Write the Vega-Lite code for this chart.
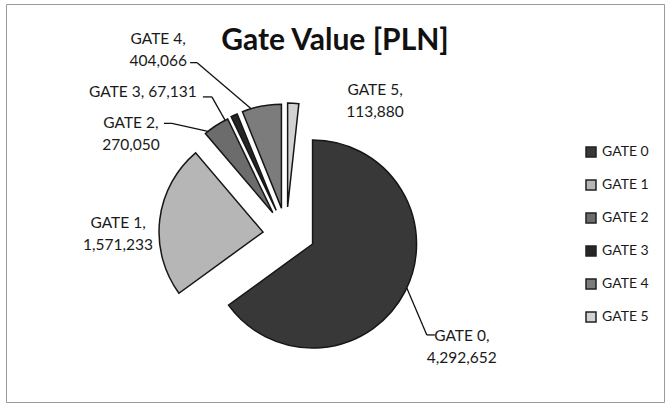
{
  "$schema": "https://vega.github.io/schema/vega-lite/v6.json",
  "width": 658,
  "height": 398,
  "autosize": "none",
  "padding": {"left": 6, "top": 4, "right": 1, "bottom": 2},
  "background": "white",
  "params": [
    {"name": "cx", "value": 283},
    {"name": "cy", "value": 229}
  ],
  "title": {
    "text": "Gate Value [PLN]",
    "font": "Lato",
    "fontSize": 30,
    "fontWeight": "bold",
    "color": "#111111",
    "anchor": "middle",
    "offset": 0,
    "dy": 76,
    "baseline": "alphabetic"
  },
  "data": {
    "values": [
      {"gate": "GATE 0", "value": 4292652},
      {"gate": "GATE 1", "value": 1571233},
      {"gate": "GATE 2", "value": 270050},
      {"gate": "GATE 3", "value": 67131},
      {"gate": "GATE 4", "value": 404066},
      {"gate": "GATE 5", "value": 113880}
    ]
  },
  "transform": [
    {"joinaggregate": [{"op": "sum", "field": "value", "as": "total"}]},
    {"stack": "value", "groupby": [], "sort": [{"field": "gate", "order": "ascending"}], "as": ["v0", "v1"]},
    {"calculate": "datum.gate == 'GATE 3' ? datum.gate + ', ' + format(datum.value, ',') : [datum.gate + ',', format(datum.value, ',')]", "as": "label"}
  ],
  "layer": [
    {
      "mark": {
        "type": "arc",
        "outerRadius": 104,
        "stroke": "#161616",
        "strokeWidth": 1.5,
        "x": {"expr": "cx + 26*sin(PI*(datum.v0+datum.v1)/datum.total)"},
        "y": {"expr": "cy - 26*cos(PI*(datum.v0+datum.v1)/datum.total)"}
      },
      "encoding": {
        "theta": {"field": "v0", "type": "quantitative"},
        "theta2": {"field": "v1"},
        "color": {
          "field": "gate",
          "type": "nominal",
          "scale": {
            "domain": ["GATE 0", "GATE 1", "GATE 2", "GATE 3", "GATE 4", "GATE 5"],
            "range": ["#383838", "#b6b6b6", "#6c6c6c", "#262626", "#7c7c7c", "#d2d2d2"]
          },
          "legend": {
            "title": null,
            "orient": "none",
            "legendX": 578,
            "legendY": 141,
            "symbolType": "square",
            "symbolSize": 100,
            "symbolStrokeColor": "#202020",
            "symbolStrokeWidth": 1.5,
            "labelFont": "Lato",
            "labelFontSize": 14,
            "labelColor": "#1a1a1a",
            "labelOffset": 4,
            "rowPadding": 17
          }
        }
      }
    },
    {
      "transform": [{"filter": {"field": "gate", "oneOf": ["GATE 0", "GATE 2", "GATE 3", "GATE 4"]}}],
      "mark": {"type": "rule", "color": "#111111", "strokeWidth": 1.3},
      "encoding": {
        "x": {"value": {"expr": "cx + 130*sin(PI*(datum.v0+datum.v1)/datum.total)"}},
        "y": {"value": {"expr": "cy - 130*cos(PI*(datum.v0+datum.v1)/datum.total)"}},
        "x2": {"value": {"expr": "cx + 130*sin(PI*(datum.v0+datum.v1)/datum.total) + [20, 0, -36, -13, -54, 0][indexof(['GATE 0','GATE 1','GATE 2','GATE 3','GATE 4','GATE 5'], datum.gate)]"}},
        "y2": {"value": {"expr": "cy - 130*cos(PI*(datum.v0+datum.v1)/datum.total) + [47, 0, -8, -23, -46, 0][indexof(['GATE 0','GATE 1','GATE 2','GATE 3','GATE 4','GATE 5'], datum.gate)]"}}
      }
    },
    {
      "transform": [{"filter": {"field": "gate", "oneOf": ["GATE 0", "GATE 2", "GATE 3", "GATE 4"]}}],
      "mark": {"type": "rule", "color": "#111111", "strokeWidth": 1.3},
      "encoding": {
        "x": {"value": {"expr": "cx + 130*sin(PI*(datum.v0+datum.v1)/datum.total) + [20, 0, -36, -13, -54, 0][indexof(['GATE 0','GATE 1','GATE 2','GATE 3','GATE 4','GATE 5'], datum.gate)]"}},
        "y": {"value": {"expr": "cy - 130*cos(PI*(datum.v0+datum.v1)/datum.total) + [47, 0, -8, -23, -46, 0][indexof(['GATE 0','GATE 1','GATE 2','GATE 3','GATE 4','GATE 5'], datum.gate)]"}},
        "x2": {"value": {"expr": "cx + 130*sin(PI*(datum.v0+datum.v1)/datum.total) + [28, 0, -44, -22, -61, 0][indexof(['GATE 0','GATE 1','GATE 2','GATE 3','GATE 4','GATE 5'], datum.gate)]"}},
        "y2": {"value": {"expr": "cy - 130*cos(PI*(datum.v0+datum.v1)/datum.total) + [47, 0, -8, -23, -46, 0][indexof(['GATE 0','GATE 1','GATE 2','GATE 3','GATE 4','GATE 5'], datum.gate)]"}}
      }
    },
    {
      "mark": {
        "type": "text",
        "x": {"expr": "cx + 130*sin(PI*(datum.v0+datum.v1)/datum.total)"},
        "y": {"expr": "cy - 130*cos(PI*(datum.v0+datum.v1)/datum.total)"},
        "dx": {"expr": "[55, -41, -77, -82, -93, 93][indexof(['GATE 0','GATE 1','GATE 2','GATE 3','GATE 4','GATE 5'], datum.gate)]"},
        "dy": {"expr": "[48, -5, -8, -28, -70, -13][indexof(['GATE 0','GATE 1','GATE 2','GATE 3','GATE 4','GATE 5'], datum.gate)]"},
        "font": "Lato",
        "fontSize": 15.5,
        "lineHeight": 22,
        "align": "center",
        "baseline": "middle",
        "color": "#1a1a1a"
      },
      "encoding": {
        "text": {"field": "label", "type": "nominal"}
      }
    }
  ],
  "config": {
    "view": {"stroke": "#9a9a9a", "strokeWidth": 1}
  }
}
